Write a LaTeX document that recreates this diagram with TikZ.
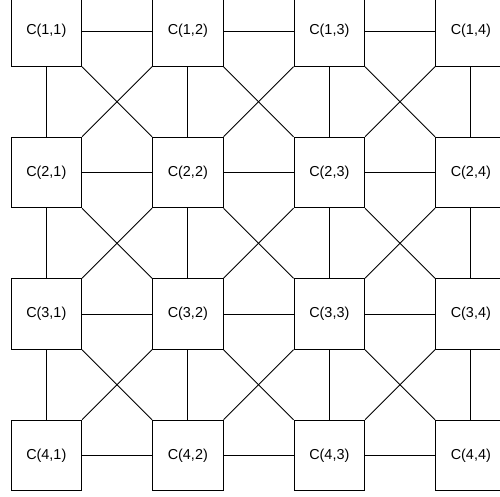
\documentclass[tikz,border=0pt]{standalone}
\usepackage{fontspec}
\setmainfont{Liberation Sans}
\begin{document}
\begin{tikzpicture}[x=1pt,y=-1pt,
  cell/.style={draw, line width=0.8pt, rectangle, minimum width=70.7pt, minimum height=70.7pt, inner sep=0pt, font=\fontsize{14.4}{17}\selectfont},
  link/.style={line width=0.8pt}]
\useasboundingbox (0,0) rectangle (500,497);
\clip (0,0) rectangle (500,497);
\foreach \i in {1,...,4}{
  \foreach \j in {1,...,4}{
    \node[cell] (c-\i-\j) at ({46.3+141.5*(\j-1)},{31+141.5*(\i-1)}) {C(\i,\j)};
  }
}
\foreach \i in {1,...,4}{
  \foreach \j [evaluate=\j as \k using int(\j+1)] in {1,2,3}{
    \draw[link] (c-\i-\j.east) -- (c-\i-\k.west);
    \draw[link] (c-\j-\i.south) -- (c-\k-\i.north);
  }
}
\foreach \i [evaluate=\i as \ii using int(\i+1)] in {1,2,3}{
  \foreach \j [evaluate=\j as \jj using int(\j+1)] in {1,2,3}{
    \draw[link] (c-\i-\j.south east) -- (c-\ii-\jj.north west);
    \draw[link] (c-\i-\jj.south west) -- (c-\ii-\j.north east);
  }
}
\end{tikzpicture}
\end{document}
